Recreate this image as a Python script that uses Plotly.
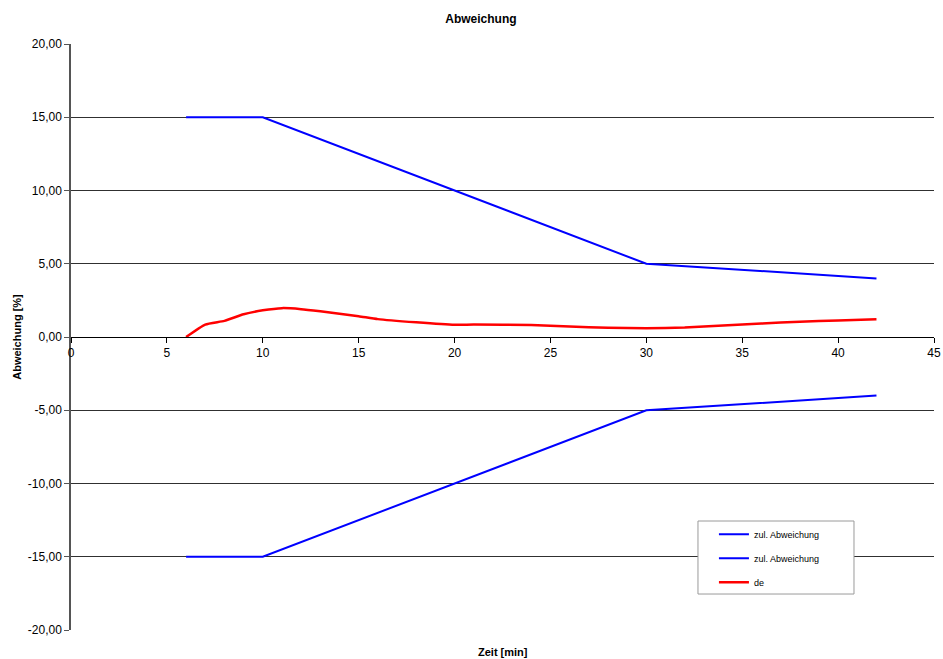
import plotly.graph_objects as go

# data
time_limits = [6, 10, 30, 42]
upper_limit = [15, 15, 5, 4]
lower_limit = [-15, -15, -5, -4]

time_de = [6, 7, 8, 9, 10, 11, 12, 13, 14, 15, 16, 18, 20, 21, 24, 26, 28, 30, 32, 34, 36, 38, 40, 42]
de_values = [0.0, 0.85, 1.1, 1.55, 1.82, 1.97, 1.9, 1.75, 1.58, 1.42, 1.22, 1.0, 0.83, 0.85, 0.82, 0.72,
             0.63, 0.6, 0.65, 0.78, 0.92, 1.04, 1.13, 1.21]

y_ticks = [-20, -15, -10, -5, 0, 5, 10, 15, 20]
y_ticktext = ["-20,00", "-15,00", "-10,00", "-5,00", "0,00", "5,00", "10,00", "15,00", "20,00"]
x_ticks = [0, 5, 10, 15, 20, 25, 30, 35, 40, 45]

series_names = ["zul. Abweichung", "zul. Abweichung", "de"]

FONT = "Liberation Sans, Arial, sans-serif"

fig = go.Figure()
fig.add_trace(go.Scatter(x=time_limits, y=upper_limit, mode="lines", name=series_names[0],
                         legendgroup="g1", line=dict(color="#0000ff", width=2)))
fig.add_trace(go.Scatter(x=time_limits, y=lower_limit, mode="lines", name=series_names[1],
                         legendgroup="g2", line=dict(color="#0000ff", width=2)))
fig.add_trace(go.Scatter(x=time_de, y=de_values, mode="lines", name=series_names[2],
                         legendgroup="g3",
                         line=dict(color="#ff0000", width=2.5, shape="spline", smoothing=0.5)))

fig.update_layout(
    width=943, height=659,
    margin=dict(l=71, r=9, t=44, b=29, autoexpand=False),
    paper_bgcolor="white", plot_bgcolor="white",
    font=dict(family=FONT, size=12, color="#000000"),
    title=dict(text="<b>Abweichung</b>", x=0.51, xanchor="center", y=0.972, yanchor="middle",
               font=dict(family=FONT, size=12)),
    showlegend=True,
    legend=dict(x=0.745, y=0.188, xanchor="left", yanchor="top",
                bgcolor="rgba(0,0,0,0)", borderwidth=0,
                font=dict(family=FONT, size=9), tracegroupgap=5,
                itemwidth=30, traceorder="grouped"),
    shapes=[dict(type="rect", xref="paper", yref="paper", x0=0.7265, x1=0.9073, y0=0.0614, y1=0.186,
                 fillcolor="white", line=dict(color="#9a9a9a", width=1), layer="above")],
    xaxis=dict(range=[0, 45], tickvals=x_ticks, showgrid=False, zeroline=False,
               showline=True, linecolor="#000000", linewidth=1,
               ticks="outside", ticklen=5, tickcolor="#000000", automargin=False,
               anchor="free", position=0.5, tickfont=dict(size=12)),
    yaxis=dict(range=[-20, 20], tickvals=y_ticks, ticktext=y_ticktext,
               showgrid=True, gridcolor="#303030", gridwidth=1, zeroline=False,
               showline=True, linecolor="#555555", linewidth=1.5, automargin=False,
               ticks="outside", ticklen=5, tickcolor="#555555",
               title=dict(text="<b>Abweichung [%]</b>", font=dict(size=11), standoff=4),
               tickfont=dict(size=12)),
    annotations=[dict(text="<b>Zeit [min]</b>", xref="paper", yref="paper", x=0.5, y=-0.038,
                      xanchor="center", yanchor="middle", showarrow=False,
                      font=dict(family=FONT, size=11))],
)

fig.write_html("out.html", config={"displayModeBar": False},
               post_script="document.body.style.margin='0';document.body.style.overflow='hidden';")
